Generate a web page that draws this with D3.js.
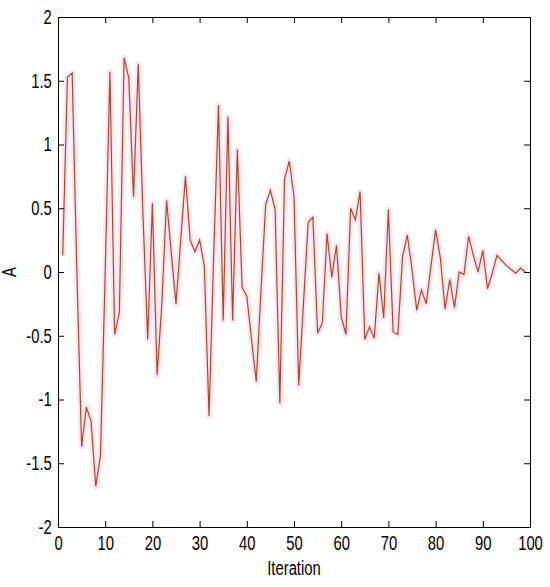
<!DOCTYPE html>
<html>
<head>
<meta charset="utf-8">
<script src="https://cdn.jsdelivr.net/npm/d3@7"></script>
<style>
  body { margin: 0; background: #fff; }
  text { font-family: "Liberation Sans", Arial, sans-serif; }
</style>
</head>
<body>
<div id="chart"></div>
<script>
// iterations and the value A at each one
const iterations = d3.range(1, 100)
const values = [
  0.13, 1.53, 1.56, 0.00, -1.37, -1.06, -1.17, -1.68, -1.44, 0.00,
  1.57, -0.49, -0.32, 1.68, 1.52, 0.59, 1.63, 0.45, -0.53, 0.54,
  -0.81, -0.25, 0.56, 0.15, -0.25, 0.25, 0.75, 0.25, 0.16, 0.25,
  0.05, -1.13, 0.15, 1.31, -0.38, 1.22, -0.38, 0.96, -0.12, -0.19,
  -0.53, -0.86, -0.15, 0.53, 0.64, 0.49, -1.03, 0.73, 0.87, 0.59,
  -0.89, -0.25, 0.39, 0.43, -0.48, -0.40, 0.30, -0.04, 0.21, -0.35,
  -0.49, 0.50, 0.41, 0.63, -0.53, -0.43, -0.52, -0.01, -0.36, 0.49,
  -0.47, -0.49, 0.12, 0.29, 0.02, -0.30, -0.14, -0.25, 0.04, 0.33,
  0.11, -0.29, -0.06, -0.28, 0.00, -0.02, 0.28, 0.13, 0.00, 0.17,
  -0.13, -0.01, 0.13, 0.09, 0.05, 0.02, -0.01, 0.03, 0.00
]
const xTicks = d3.range(0, 101, 10)
const yTicks = [-2, -1.5, -1, -0.5, 0, 0.5, 1, 1.5, 2]

const W = 550, H = 587
const margin = {top: 17, right: 20, bottom: 60, left: 58}
const w = W - margin.left - margin.right
const h = H - margin.top - margin.bottom

const svg = d3.select("#chart").append("svg")
  .attr("width", W).attr("height", H)

const g = svg.append("g").attr("transform", `translate(${margin.left},${margin.top})`)

const x = d3.scaleLinear().domain([0, 100]).range([0, w])
const y = d3.scaleLinear().domain([-2, 2]).range([h, 0])

const pts = iterations.map((it, i) => [it, values[i]])
const line = d3.line().x(d => x(d[0])).y(d => y(d[1]))

// soft pink halo round the trace, like the original
g.append("path").datum(pts)
  .attr("d", line).attr("fill", "none")
  .attr("stroke", "#fde6ef").attr("stroke-width", 6)
  .attr("stroke-linejoin", "round")

g.append("path").datum(pts)
  .attr("d", line).attr("fill", "none")
  .attr("stroke", "#a9482c").attr("stroke-width", 1.2)

// box axes, ticks pointing inward; labels squeezed to look like the narrow font
const fmt = d => String(d)
const squeeze = "scale(0.78,1.05)"
const styleAxis = (sel, hideText) => {
  sel.select(".domain").attr("stroke", "#000")
  sel.selectAll(".tick line").attr("stroke", "#000")
  sel.selectAll(".tick text").attr("fill", "#000").style("font-size", "19px")
    .attr("transform", squeeze)
  if (hideText) sel.selectAll(".tick text").remove()
}

g.append("g").attr("transform", `translate(0,${h})`)
  .call(d3.axisBottom(x).tickValues(xTicks).tickFormat(fmt).tickSizeInner(-6).tickSizeOuter(0).tickPadding(8))
  .call(s => styleAxis(s, false))

g.append("g")
  .call(d3.axisTop(x).tickValues(xTicks).tickSizeInner(-6).tickSizeOuter(0))
  .call(s => styleAxis(s, true))

g.append("g")
  .call(d3.axisLeft(y).tickValues(yTicks).tickFormat(fmt).tickSizeInner(-6).tickSizeOuter(0).tickPadding(8))
  .call(s => styleAxis(s, false))

g.append("g").attr("transform", `translate(${w},0)`)
  .call(d3.axisRight(y).tickValues(yTicks).tickSizeInner(-6).tickSizeOuter(0))
  .call(s => styleAxis(s, true))

g.append("text")
  .attr("transform", `translate(${w / 2},${h + 48}) ${squeeze}`)
  .attr("text-anchor", "middle").style("font-size", "19px")
  .text("Iteration")

g.append("text")
  .attr("transform", `translate(${-42},${h / 2}) rotate(-90) ${squeeze}`)
  .attr("text-anchor", "middle").style("font-size", "19px")
  .text("A")
</script>
</body>
</html>
